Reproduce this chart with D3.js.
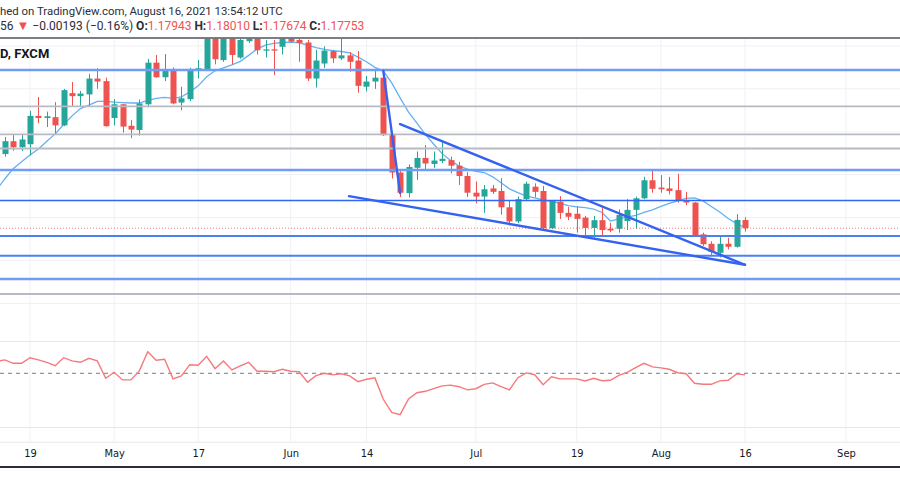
<!DOCTYPE html>
<html><head><meta charset="utf-8">
<script src="https://cdn.jsdelivr.net/npm/d3@7/dist/d3.min.js"></script>
<style>body{margin:0;background:#fff;} svg{display:block;font-family:Roboto,"Noto Sans",sans-serif;}</style>
</head><body><svg id="c" width="900" height="500"></svg>
<script>
// ---- data (EUR/USD daily, FXCM) ----
const dates = ["04-14","04-15","04-16","04-19","04-20","04-21","04-22","04-23","04-26","04-27",
"04-28","04-29","04-30","05-03","05-04","05-05","05-06","05-07","05-10","05-11",
"05-12","05-13","05-14","05-17","05-18","05-19","05-20","05-21","05-24","05-25",
"05-26","05-27","05-28","05-31","06-01","06-02","06-03","06-04","06-07","06-08",
"06-09","06-10","06-11","06-14","06-15","06-16","06-17","06-18","06-21","06-22",
"06-23","06-24","06-25","06-28","06-29","06-30","07-01","07-02","07-05","07-06",
"07-07","07-08","07-09","07-12","07-13","07-14","07-15","07-16","07-19","07-20",
"07-21","07-22","07-23","07-26","07-27","07-28","07-29","07-30","08-02","08-03",
"08-04","08-05","08-06","08-09","08-10","08-11","08-12","08-13","08-16"];
const futureDates = ["08-17","08-18","08-19","08-20","08-23","08-24","08-25","08-26","08-27","08-30","08-31","09-01"];
const open = [1.1948,1.1978,1.1964,1.1971,1.2037,1.2032,1.2034,1.2015,1.2090,1.2083,
1.2087,1.2124,1.2118,1.2032,1.2064,1.2014,1.2004,1.2064,1.2161,1.2127,
1.2144,1.2068,1.2076,1.2142,1.2144,1.2232,1.2167,1.2228,1.2173,1.2211,
1.2230,1.2189,1.2192,1.2198,1.2225,1.2214,1.2208,1.2124,1.2159,1.2188,
1.2171,1.2178,1.2166,1.2105,1.2117,1.2126,1.1992,1.1905,1.1857,1.1916,
1.1939,1.1925,1.1932,1.1934,1.1921,1.1897,1.1858,1.1849,1.1868,1.1862,
1.1824,1.1791,1.1843,1.1872,1.1862,1.1775,1.1837,1.1811,1.1809,1.1800,
1.1776,1.1794,1.1774,1.1774,1.1792,1.1818,1.1845,1.1887,1.1870,1.1868,
1.1864,1.1840,1.1835,1.1761,1.1739,1.1718,1.1739,1.1732,1.17943];
const high = [1.1988,1.1994,1.1994,1.2049,1.2081,1.2047,1.2069,1.2100,1.2116,1.2095,
1.2135,1.2148,1.2126,1.2076,1.2065,1.2027,1.2075,1.2170,1.2179,1.2181,
1.2150,1.2105,1.2149,1.2167,1.2249,1.2260,1.2242,1.2251,1.2223,1.2242,
1.2249,1.2214,1.2214,1.2237,1.2237,1.2221,1.2214,1.2191,1.2199,1.2191,
1.2217,1.2186,1.2188,1.2130,1.2144,1.2137,1.1995,1.1911,1.1924,1.1954,
1.1969,1.1954,1.1977,1.1942,1.1930,1.1906,1.1884,1.1876,1.1876,1.1892,
1.1841,1.1849,1.1884,1.1880,1.1874,1.1841,1.1850,1.1825,1.1827,1.1804,
1.1804,1.1825,1.1788,1.1819,1.1843,1.1849,1.1895,1.1911,1.1899,1.1895,
1.1902,1.1860,1.1836,1.1765,1.1745,1.1757,1.1753,1.1808,1.18010];
const low = [1.1942,1.1956,1.1955,1.1945,1.2020,1.2011,1.1995,1.2013,1.2059,1.2058,
1.2060,1.2100,1.2012,1.2015,1.1998,1.1985,1.1991,1.2057,1.2126,1.2118,
1.2064,1.2050,1.2071,1.2124,1.2142,1.2157,1.2163,1.2157,1.2170,1.2207,
1.2180,1.2173,1.2132,1.2180,1.2207,1.2163,1.2118,1.2103,1.2149,1.2160,
1.2167,1.2140,1.2091,1.2094,1.2100,1.1990,1.1891,1.1848,1.1847,1.1888,
1.1913,1.1916,1.1927,1.1903,1.1876,1.1848,1.1833,1.1811,1.1855,1.1807,
1.1782,1.1787,1.1841,1.1847,1.1773,1.1773,1.1797,1.1794,1.1765,1.1759,
1.1753,1.1759,1.1766,1.1765,1.1771,1.1774,1.1843,1.1858,1.1858,1.1854,
1.1835,1.1829,1.1755,1.1734,1.1713,1.1707,1.1726,1.1730,1.17674];
const close = [1.1978,1.1964,1.1982,1.2037,1.2032,1.2036,1.2015,1.2097,1.2083,1.2089,
1.2124,1.2117,1.2013,1.2064,1.2012,1.2005,1.2066,1.2161,1.2127,1.2144,
1.2066,1.2078,1.2144,1.2148,1.2237,1.2169,1.2230,1.2179,1.2214,1.2218,
1.2190,1.2192,1.2189,1.2223,1.2210,1.2207,1.2124,1.2166,1.2189,1.2171,
1.2178,1.2163,1.2107,1.2117,1.2126,1.1992,1.1905,1.1858,1.1918,1.1939,
1.1926,1.1933,1.1937,1.1921,1.1897,1.1858,1.1849,1.1866,1.1860,1.1824,
1.1791,1.1843,1.1879,1.1860,1.1775,1.1839,1.1811,1.1802,1.1797,1.1776,
1.1794,1.1771,1.1770,1.1806,1.1818,1.1845,1.1887,1.1867,1.1866,1.1862,
1.1839,1.1835,1.1759,1.1738,1.1720,1.1739,1.1732,1.17946,1.17753];
// moving average, first value belongs to the session before the first candle (04-13)
const maValues = [1.1864,1.1890,1.1914,1.1930,1.1946,1.1960,1.1978,1.1995,1.2017,1.2037,1.2054,
1.2062,1.2071,1.2071,1.2069,1.2068,1.2067,1.2067,1.2073,1.2078,1.2080,
1.2078,1.2081,1.2093,1.2107,1.2128,1.2142,1.2149,1.2156,1.2164,1.2178,
1.2193,1.2202,1.2206,1.2208,1.2209,1.2207,1.2202,1.2196,1.2192,1.2189,
1.2187,1.2184,1.2174,1.2163,1.2150,1.2142,1.2114,1.2079,1.2046,1.2020,
1.1994,1.1971,1.1949,1.1933,1.1920,1.1913,1.1908,1.1905,1.1895,1.1881,
1.1867,1.1858,1.1850,1.1846,1.1841,1.1838,1.1833,1.1828,1.1825,1.1823,
1.1820,1.1812,1.1792,1.1797,1.1801,1.1805,1.1812,1.1818,1.1826,1.1833,
1.1839,1.1845,1.1846,1.1839,1.1826,1.1813,1.1798,1.1786,1.1777];
// oscillator (RSI-like), first value belongs to 04-13
const rsiValues = [55.9,56.7,55.0,55.0,57.8,56.7,55.5,53.8,57.8,56.2,55.5,
57.5,56.2,47.5,50.5,46.7,46.7,51.2,60.8,56.5,57.0,
47.2,48.7,54.3,54.0,58.5,52.3,56.2,51.7,53.7,55.5,
51.0,51.0,50.8,52.0,51.0,50.8,45.5,48.8,50.0,49.2,
49.8,48.7,45.8,47.0,47.7,37.0,30.5,29.3,37.2,40.3,
41.0,42.3,43.7,44.1,43.3,41.7,42.3,44.5,45.2,43.3,
41.7,47.8,50.2,49.3,44.3,48.3,47.2,47.2,47.2,46.2,
47.5,46.3,46.5,49.0,50.5,52.8,55.0,53.2,52.7,52.0,
50.3,49.8,45.0,44.5,44.5,46.2,46.5,49.7,49.2];
const rsiMid = 50;
const tickDates = ["04-19","05-03","05-17","06-01","06-14","07-01","07-19","08-02","08-16","09-01"];
const tickLabels = ["19","May","17","Jun","14","Jul","19","Aug","16","Sep"];
const gridPrices = [1.22,1.21,1.20,1.19,1.18,1.17,1.16];
// horizontal drawn levels
const levelPrices = [1.2144,1.2059,1.1994,1.1961,1.1911,1.1840,1.1757,1.1711,1.1657,1.1622];
const levelKinds  = ["blueL","gray","gray","gray","blueL","blueD","blueM","blueM","blueL","gray"];
// trend lines: [startDate, startPrice, endDate, endPrice]
const trendLines = [["06-16",1.2142,"06-18",1.1857],["06-18",1.2018,"08-16",1.1690],["06-10",1.1850,"08-16",1.1690]];
const trendOffsets = [0,0,-0.08];
const lastPrice = 1.17753;

// ---- drawing ----
const svg = d3.select("#c");
const W = 900;
const allDates = dates.concat(futureDates);
const idx = d => allDates.indexOf(d);
const x = d3.scaleLinear().domain([0, dates.length - 1]).range([4.76, 745.0]);
const y = d3.scaleLinear().domain([1.2307, 1.1142]).range([0, 500]);
const yr = d3.scaleLinear().domain([0, 100]).range([473.3, 273.3]);
const mainTop = 38.7, mainBot = 322, rsiTop = 341, rsiBot = 427, axisTop = 441.7;

const defs = svg.append("defs");
defs.append("clipPath").attr("id","clipMain").append("rect").attr("x",0).attr("y",mainTop).attr("width",W).attr("height",mainBot-mainTop);
defs.append("clipPath").attr("id","clipRsi").append("rect").attr("x",0).attr("y",rsiTop).attr("width",W).attr("height",rsiBot-rsiTop);

// vertical grid
svg.append("g").selectAll("line").data(tickDates).join("line")
  .attr("x1",d=>x(idx(d))).attr("x2",d=>x(idx(d))).attr("y1",mainTop).attr("y2",axisTop)
  .attr("stroke","#f0f1f4").attr("stroke-width",1);
// horizontal grid main
const gMain = svg.append("g").attr("clip-path","url(#clipMain)");
gMain.selectAll("line.grid").data(gridPrices).join("line").attr("class","grid")
  .attr("x1",0).attr("x2",W).attr("y1",d=>y(d)).attr("y2",d=>y(d))
  .attr("stroke","#f0f1f4").attr("stroke-width",1);

// moving average
const maLine = d3.line().x((d,i)=>x(i-1)).y(d=>y(d));
gMain.append("path").attr("d",maLine(maValues)).attr("fill","none").attr("stroke","#64b0f4").attr("stroke-width",1.3);

// candles
const up = "#26a69a", dn = "#ef5350";
const cg = gMain.append("g");
const candles = dates.map((d,i)=>({i, o:open[i], h:high[i], l:low[i], c:close[i]}));
cg.selectAll("line.wick").data(candles).join("line").attr("class","wick")
  .attr("x1",d=>Math.round(x(d.i))+0.5).attr("x2",d=>Math.round(x(d.i))+0.5)
  .attr("y1",d=>y(d.h)).attr("y2",d=>y(d.l))
  .attr("stroke",d=>d.c>=d.o?up:dn).attr("stroke-width",1);
cg.selectAll("rect.body").data(candles).join("rect").attr("class","body")
  .attr("x",d=>Math.round(x(d.i))-2.5).attr("width",6)
  .attr("y",d=>y(Math.max(d.o,d.c))).attr("height",d=>Math.max(1,Math.abs(y(d.o)-y(d.c))))
  .attr("fill",d=>d.c>=d.o?up:dn);

// last price dotted line
gMain.append("line").attr("x1",0).attr("x2",W).attr("y1",y(lastPrice)).attr("y2",y(lastPrice))
  .attr("stroke",dn).attr("stroke-width",1).attr("stroke-dasharray","1,2").attr("opacity",0.8);

// drawn horizontal levels
const levelStyle = {
  blueL:{c:"#6f9cf6",w:2.4}, blueD:{c:"#2f66f2",w:1.6}, blueM:{c:"#4a80f4",w:2}, gray:{c:"#b7bac3",w:1.8}
};
gMain.selectAll("line.level").data(levelPrices).join("line").attr("class","level")
  .attr("x1",0).attr("x2",W).attr("y1",d=>y(d)).attr("y2",d=>y(d))
  .attr("stroke",(d,i)=>levelStyle[levelKinds[i]].c).attr("stroke-width",(d,i)=>levelStyle[levelKinds[i]].w);

// trend lines
gMain.selectAll("line.trend").data(trendLines).join("line").attr("class","trend")
  .attr("x1",(d,i)=>x(idx(d[0])+trendOffsets[i])).attr("y1",d=>y(d[1]))
  .attr("x2",d=>x(idx(d[2]))).attr("y2",d=>y(d[3]))
  .attr("stroke","#3562ef").attr("stroke-width",2.4).attr("stroke-linecap","round");

// pane separators
[rsiTop, rsiBot, axisTop].forEach(v=>{
  svg.append("line").attr("x1",0).attr("x2",W).attr("y1",v+0.5).attr("y2",v+0.5).attr("stroke","#e6e7ea").attr("stroke-width",1);
});

// oscillator pane
const gR = svg.append("g").attr("clip-path","url(#clipRsi)");
gR.append("line").attr("x1",0).attr("x2",W).attr("y1",yr(rsiMid)).attr("y2",yr(rsiMid))
  .attr("stroke","#787b86").attr("stroke-width",1).attr("stroke-dasharray","4,4");
const rLine = d3.line().x((d,i)=>x(i-1)).y(d=>yr(d));
gR.append("path").attr("d",rLine(rsiValues)).attr("fill","none").attr("stroke","#f7787b").attr("stroke-width",1.4);

// time axis
const axis = d3.axisBottom(x).tickValues(tickDates.map(idx)).tickFormat((d,i)=>tickLabels[i]).tickSize(0).tickPadding(3);
const ga = svg.append("g").attr("transform","translate(0,446)").call(axis);
ga.select(".domain").remove();
ga.selectAll("text").attr("font-family","'DejaVu Sans Condensed','Liberation Sans Narrow',sans-serif").attr("font-size",11).attr("fill","#131722");

// borders
svg.append("line").attr("x1",0).attr("x2",W).attr("y1",38).attr("y2",38).attr("stroke","#50535e").attr("stroke-width",1.6);
svg.append("line").attr("x1",0).attr("x2",W).attr("y1",467).attr("y2",467).attr("stroke","#2a2e39").attr("stroke-width",2);

// header texts
svg.append("text").attr("x",0).attr("y",14.8).attr("font-size",11.4).attr("fill","#2a2e39")
  .text("hed on TradingView.com, August 16, 2021 13:54:12 UTC");
const t2 = svg.append("text").attr("x",0).attr("y",29.6).attr("font-size",12).attr("fill","#2a2e39");
t2.append("tspan").text("56 ");
t2.append("tspan").attr("fill",dn).attr("font-size",13).text("▼");
t2.append("tspan").text(" −0.00193 (−0.16%) ");
const ohlc = [["O:",open[88]],["H:",high[88]],["L:",low[88]],["C:",close[88]]];
ohlc.forEach(([k,v],i)=>{
  t2.append("tspan").attr("font-weight","bold").text((i?" ":"")+k);
  t2.append("tspan").attr("fill",dn).text(v.toFixed(5));
});
svg.append("text").attr("x",0).attr("y",57.5).attr("font-size",13).attr("font-weight","bold").attr("fill","#131722").text("D, FXCM");
</script></body></html>
